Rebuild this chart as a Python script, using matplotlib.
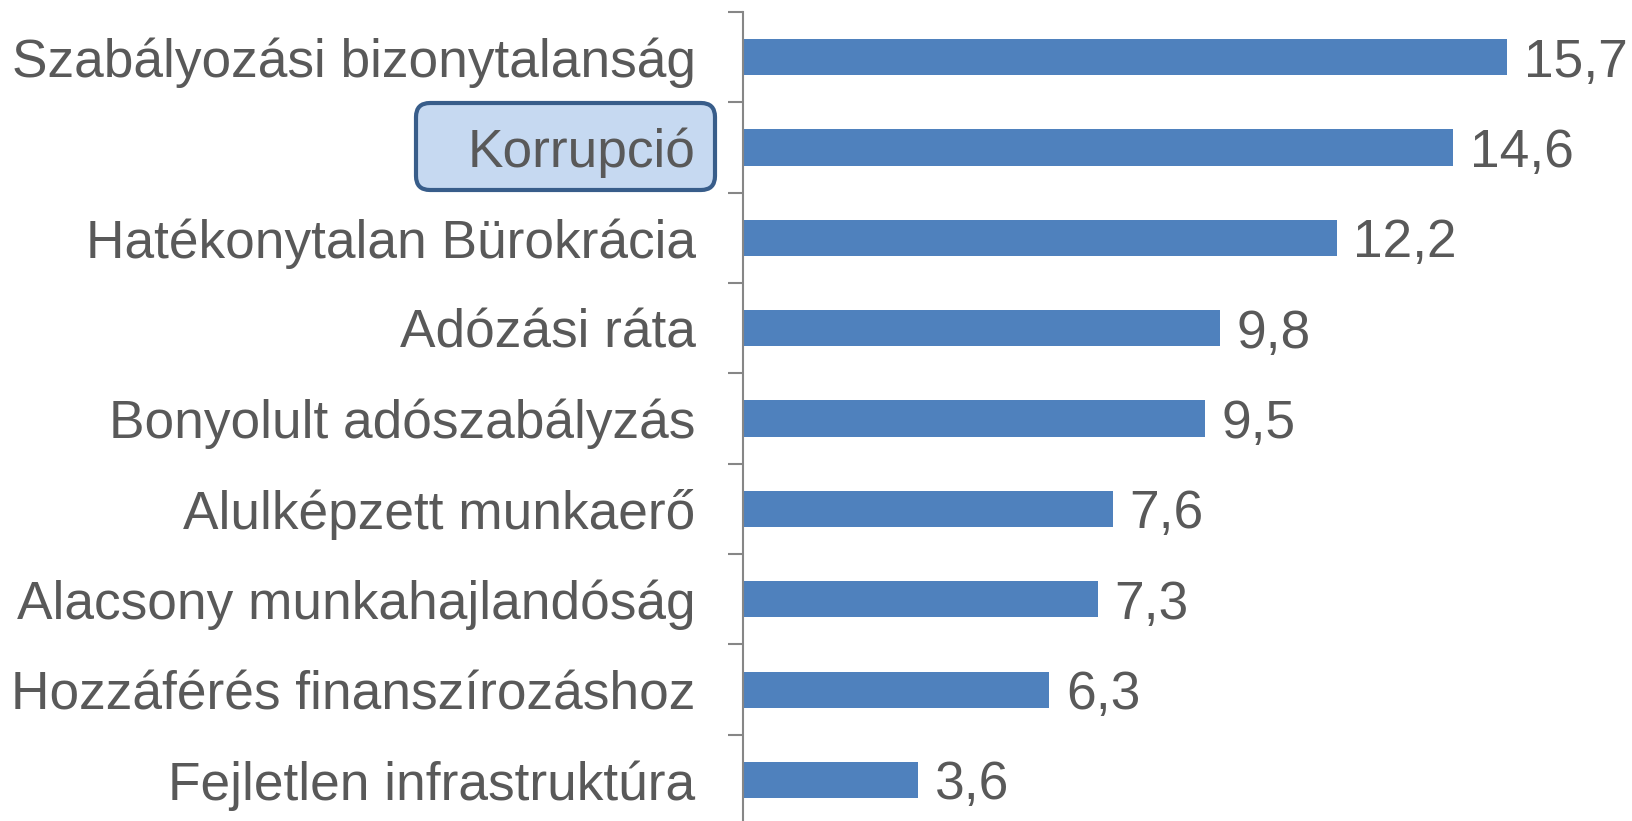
import matplotlib.pyplot as plt
import numpy as np
from matplotlib.patches import FancyBboxPatch

# Data
categories = ["Szabályozási bizonytalanság", "Korrupció", "Hatékonytalan Bürokrácia",
              "Adózási ráta", "Bonyolult adószabályzás", "Alulképzett munkaerő",
              "Alacsony munkahajlandóság", "Hozzáférés finanszírozáshoz",
              "Fejletlen infrastruktúra"]
values = [15.7, 14.6, 12.2, 9.8, 9.5, 7.6, 7.3, 6.3, 3.6]
highlight = "Korrupció"

plt.rcParams['font.family'] = ['Liberation Sans', 'DejaVu Sans']
text_color = "#595959"
axis_color = "#868686"

fig = plt.figure(figsize=(16.32, 8.21), dpi=100)
ax = fig.add_axes([0.4551, -0.005, 0.5449, 0.9904])
ax.set_facecolor("none")

y = np.arange(len(categories))
ax.barh(y, values, height=0.4, color="#4f81bd", zorder=2)

# value labels
for yi, v in zip(y, values):
    ax.annotate(f"{v:.1f}".replace(".", ","), (v, yi), xytext=(12, 0),
                textcoords="offset points", va="center_baseline", ha="left",
                fontsize=38.3, color=text_color)

ax.set_xlim(0, 18.27)
ax.set_ylim(len(categories) - 0.5, -0.5)

for s in ["top", "right", "bottom"]:
    ax.spines[s].set_visible(False)
ax.spines["left"].set_color(axis_color)
ax.spines["left"].set_linewidth(1.5)
ax.set_xticks([])

ax.set_yticks(y)
ax.set_yticklabels(categories, fontsize=38.3, color=text_color)
ax.tick_params(axis="y", which="major", length=0, pad=34)
ax.set_yticks(np.arange(-0.5, len(categories), 1), minor=True)
ax.tick_params(axis="y", which="minor", length=11, width=1.5, color=axis_color)

# highlight box behind "Korrupció"
box = FancyBboxPatch((4.16, 6.31), 2.99, 0.87,
                     boxstyle="round,pad=0,rounding_size=0.14",
                     transform=fig.dpi_scale_trans, facecolor="#c6d9f1",
                     edgecolor="#385d8a", linewidth=3, zorder=-1)
fig.patches.append(box)

plt.savefig("out.png", dpi=100)
